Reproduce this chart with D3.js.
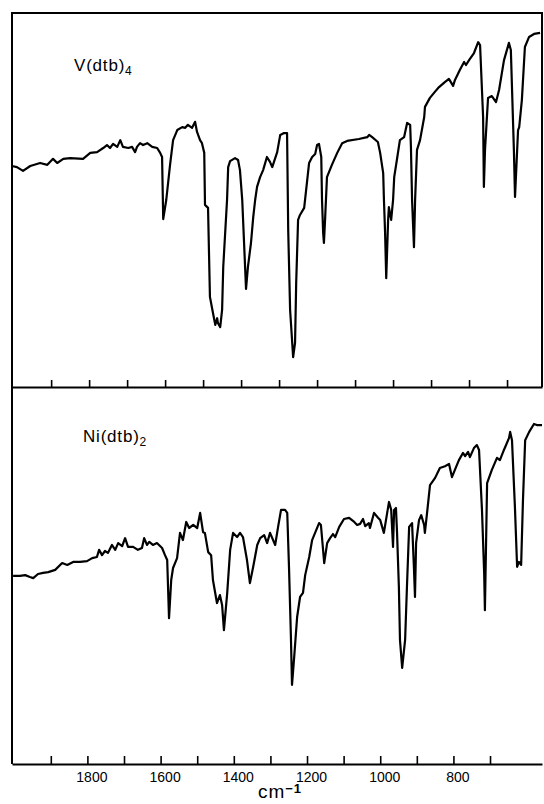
<!DOCTYPE html>
<html>
<head>
<meta charset="utf-8">
<script src="https://cdn.jsdelivr.net/npm/d3@7/dist/d3.min.js"></script>
<style>
  body { margin: 0; background: #fff; }
  svg text { font-family: "Liberation Sans", Arial, sans-serif; fill: #000; }
  .axis path, .axis line { stroke: #000; }
  .axis path { stroke-width: 2; }
  .axis line { stroke-width: 1.6; }
  .spectrum { fill: none; stroke: #000; stroke-width: 2.2; stroke-linejoin: round; }
</style>
</head>
<body>
<div class="spectra"></div>
<script>
// [wavenumber cm-1, transmittance % of panel height]
var vDtb4 = [
  [2003,59.1],[1990,58.8],[1974,57.8],[1955,59.1],[1929,59.9],[1910,59.4],[1895,61.0],[1884,59.9],
  [1868,61.0],[1850,61.2],[1816,61.0],[1797,62.6],[1779,62.8],[1763,63.9],[1753,64.7],[1745,63.9],
  [1737,65.0],[1726,64.2],[1718,66.0],[1711,64.2],[1697,63.9],[1687,64.2],[1679,62.8],[1674,64.2],
  [1666,65.2],[1658,64.7],[1647,65.2],[1634,64.2],[1621,63.9],[1613,62.6],[1608,61.5],[1605,44.9],
  [1597,50.0],[1587,59.4],[1579,66.0],[1568,68.7],[1555,69.5],[1547,69.3],[1540,70.1],[1529,69.3],
  [1521,70.9],[1516,68.2],[1508,66.0],[1503,65.2],[1497,62.6],[1495,48.7],[1487,47.9],[1482,24.1],
  [1474,19.8],[1468,16.6],[1463,18.4],[1461,17.1],[1455,16.0],[1450,20.6],[1447,32.1],[1437,50.0],
  [1434,58.8],[1429,60.4],[1416,61.2],[1408,60.7],[1403,58.0],[1397,50.0],[1387,26.2],[1382,32.1],
  [1374,38.5],[1368,45.5],[1363,50.0],[1358,53.5],[1350,56.1],[1342,58.0],[1332,61.5],[1324,60.2],
  [1318,58.8],[1305,62.8],[1297,67.4],[1287,67.9],[1279,67.9],[1276,42.0],[1271,20.6],[1263,8.0],
  [1258,11.8],[1255,27.8],[1250,44.7],[1245,46.0],[1234,47.9],[1221,59.9],[1213,61.5],[1205,62.3],
  [1200,64.7],[1195,65.0],[1189,61.5],[1187,50.0],[1184,41.2],[1182,38.5],[1179,44.7],[1174,56.1],
  [1161,59.4],[1147,62.6],[1134,65.2],[1121,65.8],[1090,66.3],[1068,66.8],[1063,67.4],[1055,66.8],
  [1040,65.5],[1034,62.6],[1026,57.2],[1024,50.0],[1021,41.2],[1018,29.1],[1013,44.7],[1011,48.1],
  [1005,44.7],[1000,50.0],[997,56.1],[990,60.7],[982,66.0],[971,66.8],[963,70.6],[955,70.1],
  [953,64.2],[950,50.0],[945,37.4],[942,50.0],[937,63.4],[929,66.0],[918,72.2],[916,74.9],
  [903,77.3],[890,78.9],[879,80.2],[863,81.6],[853,82.4],[842,80.5],[837,82.1],[824,84.8],
  [813,86.9],[808,86.1],[800,87.4],[787,89.3],[776,92.2],[771,91.4],[763,72.2],[761,53.5],
  [758,63.4],[750,77.3],[740,77.8],[729,76.2],[721,79.4],[708,87.4],[695,92.0],[690,90.1],
  [682,63.4],[679,50.8],[671,68.7],[668,69.5],[661,76.7],[653,90.9],[642,93.6],[629,94.4],[613,94.7]
];

var niDtb2 = [
  [2003,49.9],[1984,49.9],[1970,50.1],[1957,49.6],[1948,49.3],[1935,50.4],[1921,50.7],[1907,50.9],
  [1888,51.5],[1869,53.3],[1855,52.8],[1839,53.6],[1820,53.6],[1801,53.8],[1787,54.6],[1774,54.9],
  [1768,56.8],[1760,55.4],[1752,56.5],[1744,56.0],[1733,58.1],[1724,56.8],[1716,58.6],[1705,57.8],
  [1697,59.9],[1689,57.6],[1675,57.6],[1662,56.8],[1651,57.3],[1645,59.9],[1637,58.1],[1631,58.9],
  [1621,58.1],[1610,58.6],[1596,57.3],[1588,55.4],[1582,54.1],[1577,38.7],[1571,48.8],[1566,52.0],
  [1555,54.6],[1547,61.3],[1539,59.4],[1530,64.2],[1522,62.6],[1511,63.4],[1500,62.6],[1492,66.6],
  [1484,61.5],[1479,61.3],[1470,56.2],[1462,55.4],[1457,48.8],[1446,42.7],[1438,44.8],[1432,42.2],
  [1427,35.5],[1418,45.4],[1410,56.8],[1402,61.3],[1391,60.2],[1383,61.3],[1375,60.2],[1364,54.1],
  [1356,48.0],[1347,52.3],[1336,58.1],[1328,59.9],[1317,60.7],[1309,58.6],[1301,61.3],[1287,58.1],
  [1279,62.9],[1271,67.4],[1260,67.4],[1254,66.6],[1249,51.5],[1244,33.7],[1241,21.0],[1235,28.4],
  [1227,39.0],[1219,44.3],[1211,45.4],[1205,50.1],[1194,54.9],[1186,59.4],[1178,61.3],[1167,63.9],
  [1162,63.4],[1153,53.3],[1145,58.6],[1137,59.9],[1129,61.0],[1123,60.2],[1112,62.9],[1099,65.0],
  [1085,65.3],[1071,64.2],[1063,63.4],[1055,63.7],[1047,65.0],[1041,63.1],[1031,63.9],[1028,62.6],
  [1017,66.6],[1006,65.3],[1000,64.7],[990,61.3],[981,66.6],[976,69.5],[970,67.4],[965,57.6],
  [962,67.4],[957,67.9],[954,61.3],[949,46.9],[946,32.9],[940,25.5],[932,32.9],[927,46.9],
  [921,62.9],[913,63.9],[908,52.3],[905,44.3],[902,58.6],[894,64.7],[888,66.0],[880,63.4],
  [878,61.3],[872,66.6],[864,74.0],[850,75.9],[837,78.5],[823,79.0],[812,79.6],[804,76.1],
  [796,78.0],[785,80.6],[774,82.5],[768,81.7],[760,82.8],[755,81.4],[744,83.8],[736,84.6],
  [730,83.3],[722,67.4],[716,50.7],[714,40.8],[708,74.5],[695,78.0],[681,81.2],[673,80.6],
  [662,83.3],[648,86.5],[645,88.1],[640,85.9],[632,68.2],[626,52.3],[621,53.6],[615,52.8],
  [610,70.0],[604,85.9],[593,88.1],[580,90.2],[572,89.9],[558,89.9]
];

var tickValues = [1900, 1800, 1700, 1600, 1500, 1400, 1300, 1200, 1100, 1000, 900, 800, 700];
var labelledTicks = [1800, 1600, 1400, 1200, 1000, 800];
var compounds = ["V(dtb)", "Ni(dtb)"];
var subscripts = ["4", "2"];
var axisTitle = "cm";
var axisTitleSup = "\u22121";

var width = 544,
    height = 804,
    left = 12,
    right = 542,
    top1 = 13,
    mid = 387,
    bottom = 764;

var svg = d3.select(".spectra")
    .append("svg")
    .attr("width", width)
    .attr("height", height);

// each recording has its own chart paper scale
var xTop = d3.scaleLinear().domain([2003, 608]).range([left, right]);
var xBot = d3.scaleLinear().domain([2006, 558]).range([left, right]);
var yTop = d3.scaleLinear().domain([0, 100]).range([mid, top1]);
var yBot = d3.scaleLinear().domain([0, 100]).range([bottom, mid]);

// frame
svg.append("path")
    .attr("d", "M" + right + "," + mid + "V" + top1 + "H" + left + "V" + bottom)
    .attr("fill", "none")
    .attr("stroke", "#000")
    .attr("stroke-width", 2);

// middle axis, ticks only
svg.append("g")
    .attr("class", "axis")
    .attr("transform", "translate(0," + mid + ")")
    .call(d3.axisBottom(xTop)
        .tickValues(tickValues)
        .tickSizeInner(-7)
        .tickSizeOuter(0)
        .tickFormat(""));

// bottom axis
var xAxis = svg.append("g")
    .attr("class", "axis")
    .attr("transform", "translate(0," + bottom + ")")
    .call(d3.axisBottom(xBot)
        .tickValues(tickValues)
        .tickSizeInner(-8)
        .tickSizeOuter(0)
        .tickPadding(8)
        .tickFormat(function(d) { return labelledTicks.indexOf(d) >= 0 ? d : ""; }));

xAxis.selectAll("text")
    .attr("dx", 4)
    .style("font-size", "14px");

var line = function(x, y) {
  return d3.line()
      .x(function(d) { return x(d[0]); })
      .y(function(d) { return y(d[1]); });
};

svg.append("path")
    .datum(vDtb4)
    .attr("class", "spectrum")
    .attr("d", line(xTop, yTop));

svg.append("path")
    .datum(niDtb2)
    .attr("class", "spectrum")
    .attr("d", line(xBot, yBot));

// panel labels
var labelPos = [[74, 71], [83, 442]];
compounds.forEach(function(name, i) {
  var t = svg.append("text")
      .attr("x", labelPos[i][0])
      .attr("y", labelPos[i][1])
      .style("font-size", "17px")
      .style("letter-spacing", "0.8px");
  t.append("tspan").text(name);
  t.append("tspan")
      .attr("dy", 4)
      .style("font-size", "12px")
      .text(subscripts[i]);
});

var title = svg.append("text")
    .attr("x", 280)
    .attr("y", 798)
    .attr("text-anchor", "middle")
    .style("font-size", "19px")
    .style("letter-spacing", "1px");
title.append("tspan").text(axisTitle);
title.append("tspan")
    .attr("dy", -5)
    .style("font-size", "13px")
    .style("font-weight", "bold")
    .text(axisTitleSup);
</script>
</body>
</html>
